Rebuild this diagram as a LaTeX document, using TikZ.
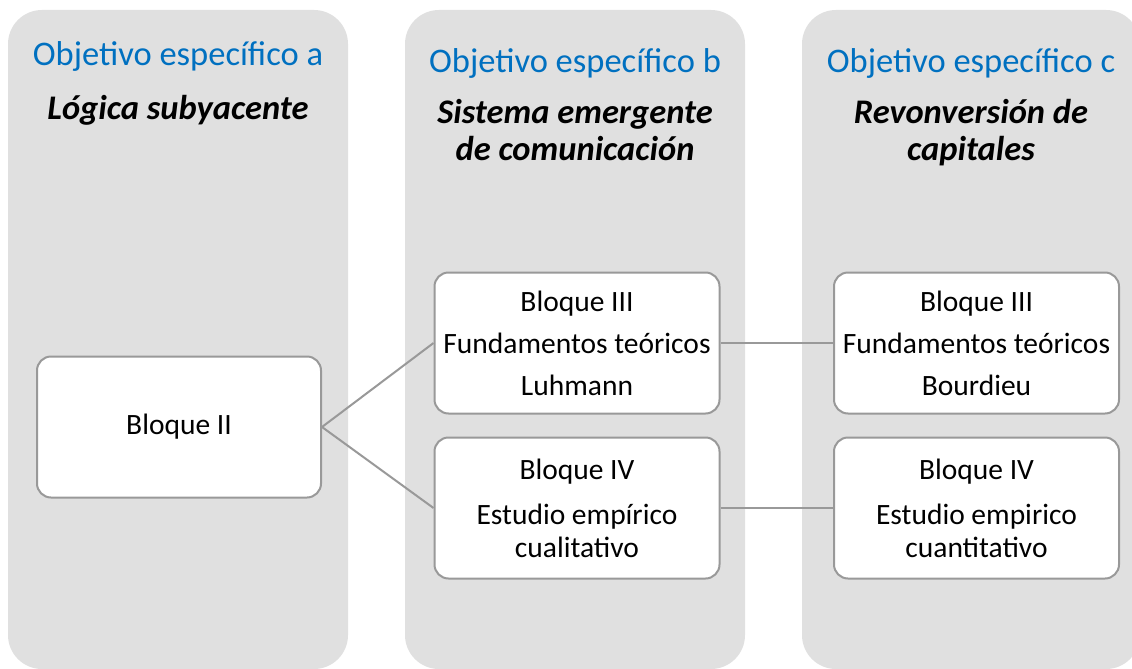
\documentclass[tikz,border=0pt]{standalone}
\usepackage{fontspec}
\setmainfont{Carlito}
\definecolor{colbg}{HTML}{E0E0E0}
\definecolor{titleblue}{HTML}{0070C0}
\definecolor{linegray}{HTML}{999999}
\begin{document}
\begin{tikzpicture}[x=1pt,y=-1pt,
  column/.style={fill=colbg,draw=none,rounded corners=34pt},
  blockbox/.style={draw=linegray,line width=2pt,fill=white,rounded corners=14pt,
    minimum width=285pt,minimum height=141pt,inner sep=0pt,align=center,
    font=\fontsize{29.5}{42}\selectfont},
  objtitle/.style={text=titleblue,font=\fontsize{34.5}{40}\selectfont,anchor=base},
  objname/.style={font=\fontsize{34.5}{35}\selectfont\bfseries\itshape,align=center,anchor=base},
  conn/.style={draw=linegray,line width=2pt}
]
\useasboundingbox (0,0) rectangle (1132,669);
\fill[white] (0,0) rectangle (1132,669);
% columns
\path[column] (8,10) rectangle (348,669);
\path[column] (405,10) rectangle (745,669);
\path[column] (802,10) rectangle (1140,669);
% titles
\node[objtitle] (ta) at (178,66) {Objetivo específico a};
\node[objtitle] (tb) at (575,73) {Objetivo específico b};
\node[objtitle] (tc) at (971,73) {Objetivo específico c};
\node[objname] (na) at (178,119) {Lógica subyacente};
\node[objname] (nb1) at (575,123) {Sistema emergente};
\node[objname] (nb2) at (575,160) {de comunicación};
\node[objname] (nc1) at (971,123) {Revonversión de};
\node[objname] (nc2) at (971,160) {capitales};
% boxes
\node[blockbox,minimum width=284pt] (b2) at (179,427) {Bloque II};
\node[blockbox] (b3b) at (577,343) {Bloque III\\Fundamentos teóricos\\Luhmann};
\node[blockbox,font=\fontsize{29.5}{33}\selectfont] (b4b) at (577,508) {Bloque IV\\[12pt]Estudio empírico\\cualitativo};
\node[blockbox] (b3c) at (976.5,343) {Bloque III\\Fundamentos teóricos\\Bourdieu};
\node[blockbox,font=\fontsize{29.5}{33}\selectfont] (b4c) at (976.5,508) {Bloque IV\\[12pt]Estudio empirico\\cuantitativo};
% connectors
\draw[conn] (b2.east) -- (b3b.west);
\draw[conn] (b2.east) -- (b4b.west);
\draw[conn] (b3b.east) -- (b3c.west);
\draw[conn] (b4b.east) -- (b4c.west);
\end{tikzpicture}
\end{document}
